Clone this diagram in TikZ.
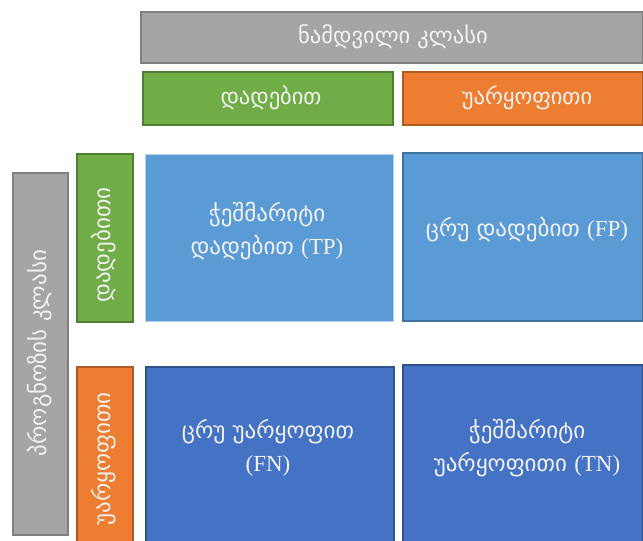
\documentclass[tikz,border=0pt]{standalone}
\usepackage{fontspec}
\setmainfont{DejaVu Sans}
\newfontfamily\latinpart{Liberation Serif}
\newcommand{\abbr}[1]{{\latinpart(#1)}}
\begin{document}
\begin{tikzpicture}[x=1pt,y=-1pt,
  box/.style={draw, line width=1.5pt, inner sep=0pt, anchor=north west},
  graybox/.style={box, fill={rgb,255:red,165;green,165;blue,165}, draw={rgb,255:red,127;green,127;blue,127}},
  greenbox/.style={box, fill={rgb,255:red,112;green,173;blue,71}, draw={rgb,255:red,80;green,126;blue,50}},
  orangebox/.style={box, fill={rgb,255:red,237;green,125;blue,49}, draw={rgb,255:red,174;green,90;blue,33}},
  lightcell/.style={box, fill={rgb,255:red,91;green,155;blue,213}, draw={rgb,255:red,180;green,205;blue,232}, line width=0.8pt},
  lightcellb/.style={box, fill={rgb,255:red,91;green,155;blue,213}, draw={rgb,255:red,65;green,113;blue,156}},
  darkcell/.style={box, fill={rgb,255:red,68;green,114;blue,196}, draw={rgb,255:red,47;green,82;blue,143}},
  lbl/.style={text={rgb,255:red,242;green,242;blue,242}, align=center, inner sep=0pt, font=\fontsize{23}{33}\selectfont},
  headlbl/.style={lbl, font=\fontsize{22.5}{33}\selectfont},
  sidelbl/.style={lbl, rotate=90},
  celllbl/.style={lbl}
]
\useasboundingbox (0,0) rectangle (643,541);
\clip (0,0) rectangle (643,541);

% column header: actual class
\node[graybox, minimum width=502pt, minimum height=51pt] (actual) at (140,11) {};
\node[headlbl] (actualtxt) at (393,37) {ნამდვილი კლასი};
\node[greenbox, minimum width=250pt, minimum height=53pt] (colpos) at (142,71) {};
\node[headlbl] (colpostxt) at (271,98) {დადებით};
\node[orangebox, minimum width=240pt, minimum height=53pt] (colneg) at (402,71) {};
\node[headlbl] (colnegtxt) at (527,98) {უარყოფითი};

% row header: predicted class
\node[graybox, minimum width=55pt, minimum height=362pt] (pred) at (12,172) {};
\node[sidelbl] (predtxt) at (40,353) {პროგნოზის კლასი};
\node[greenbox, minimum width=56pt, minimum height=168pt] (rowpos) at (76,153) {};
\node[sidelbl] (rowpostxt) at (104,245) {დადებითი};
\node[orangebox, minimum width=56pt, minimum height=200pt] (rowneg) at (76,366) {};
\node[sidelbl] (rownegtxt) at (104,459) {უარყოფითი};

% confusion matrix cells
\node[lightcell, minimum width=248pt, minimum height=167pt] (tp) at (145,154) {};
\node[celllbl] (tptxt) at (267,231) {ჭეშმარიტი\\დადებით \abbr{TP}};
\node[lightcellb, minimum width=240pt, minimum height=168pt] (fp) at (402,152) {};
\node[celllbl] (fptxt) at (527,230) {ცრუ დადებით \abbr{FP}};
\node[darkcell, minimum width=248pt, minimum height=220pt] (fn) at (145,366) {};
\node[celllbl] (fntxt) at (268,448) {ცრუ უარყოფით\\\abbr{FN}};
\node[darkcell, minimum width=240pt, minimum height=220pt] (tn) at (402,364) {};
\node[celllbl] (tntxt) at (527,448) {ჭეშმარიტი\\უარყოფითი \abbr{TN}};
\end{tikzpicture}
\end{document}
